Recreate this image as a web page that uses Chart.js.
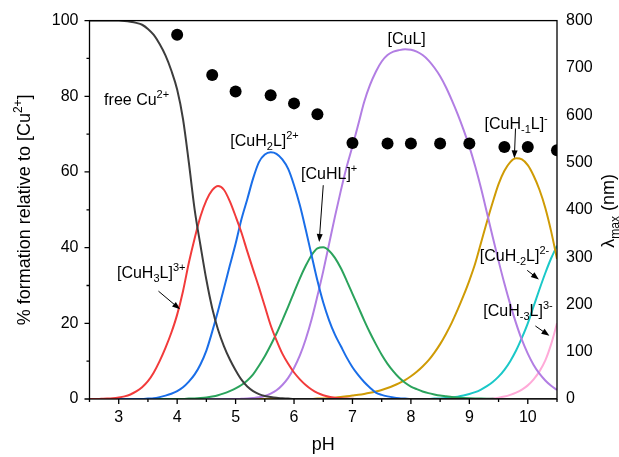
<!DOCTYPE html>
<html>
<head>
<meta charset="utf-8">
<script src="https://cdn.jsdelivr.net/npm/chart.js@4.4.0/dist/chart.umd.min.js"></script>
<style>
html, body { margin: 0; padding: 0; background: #fff; }
#wrap { width: 619px; height: 457px; position: relative; }
</style>
</head>
<body>
<div id="wrap"><canvas id="dist"></canvas></div>
<script>
// pH grid used for all species curves
const pH = [2.5, 2.6, 2.7, 2.8, 2.9, 3.0, 3.1, 3.2, 3.3, 3.4,
            3.5, 3.6, 3.7, 3.8, 3.9, 4.0, 4.1, 4.2, 4.3, 4.4,
            4.5, 4.6, 4.7, 4.8, 4.9, 5.0, 5.1, 5.2, 5.3, 5.4,
            5.5, 5.6, 5.7, 5.8, 5.9, 6.0, 6.1, 6.2, 6.3, 6.4,
            6.5, 6.6, 6.7, 6.8, 6.9, 7.0, 7.1, 7.2, 7.3, 7.4,
            7.5, 7.6, 7.7, 7.8, 7.9, 8.0, 8.1, 8.2, 8.3, 8.4,
            8.5, 8.6, 8.7, 8.8, 8.9, 9.0, 9.1, 9.2, 9.3, 9.4,
            9.5, 9.6, 9.7, 9.8, 9.9, 10.0, 10.1, 10.2, 10.3, 10.4,
            10.5];

// % formation of each species
const freeCu = [100, 100, 100, 100, 100, 100, 99.9, 99.7, 99.4, 98.9,
                97.8, 96.2, 93.8, 90.8, 86.8, 81.8, 74, 62.5, 50, 40.5,
                31.5, 24, 18.3, 14, 10.5, 7.6, 5.1, 3.3, 2.1, 1.3,
                0.8, 0.5, 0.3, 0.2, 0.1, 0, 0, 0, 0, 0,
                0, 0, 0, 0, 0, 0, 0, 0, 0, 0,
                0, 0, 0, 0, 0, 0, 0, 0, 0, 0,
                0, 0, 0, 0, 0, 0, 0, 0, 0, 0,
                0, 0, 0, 0, 0, 0, 0, 0, 0, 0,
                0];
const cuH3L = [0, 0, 0.05, 0.1, 0.2, 0.4, 0.7, 1.2, 2.0, 3.1,
               4.7, 7.0, 10, 13.5, 17.5, 22.3, 28.5, 36, 42.5, 48.3,
               52.5, 55.2, 56.3, 55.3, 52.3, 48.3, 44, 39, 34.2, 29.5,
               24.5, 19.5, 15.5, 12, 9.3, 7, 5.2, 3.7, 2.5, 1.6,
               1.0, 0.6, 0.35, 0.2, 0.1, 0.05, 0, 0, 0, 0,
               0, 0, 0, 0, 0, 0, 0, 0, 0, 0,
               0, 0, 0, 0, 0, 0, 0, 0, 0, 0,
               0, 0, 0, 0, 0, 0, 0, 0, 0, 0,
               0];
const cuH2L = [0, 0, 0, 0, 0, 0, 0, 0, 0, 0,
               0.1, 0.2, 0.5, 0.9, 1.4, 2.1, 3.1, 4.6, 6.5, 9.2,
               12.8, 17.8, 23.3, 29.2, 35.2, 41, 47.5, 52.8, 58.3, 62.6,
               64.6, 65.2, 64.8, 63.3, 60.8, 56.5, 51.2, 44.8, 38, 31.3,
               25.5, 20.8, 17, 14, 11, 8.4, 6.3, 4.5, 3.0, 1.7,
               1.1, 0.7, 0.4, 0.2, 0.1, 0, 0, 0, 0, 0,
               0, 0, 0, 0, 0, 0, 0, 0, 0, 0,
               0, 0, 0, 0, 0, 0, 0, 0, 0, 0,
               0];
const cuHL = [0, 0, 0, 0, 0, 0, 0, 0, 0, 0,
              0, 0, 0, 0, 0, 0, 0, 0.1, 0.15, 0.25,
              0.4, 0.65, 1.0, 1.5, 2.1, 2.8, 3.7, 4.9, 6.5, 8.8,
              11.3, 14.2, 17.3, 20.8, 24.4, 28.2, 31.9, 35.2, 38, 39.8,
              40.1, 39.2, 37.3, 34.6, 31.3, 27.8, 24.3, 20.8, 17.5, 14.5,
              11.7, 9.3, 7.3, 5.6, 4.3, 3.3, 2.6, 2.0, 1.55, 1.2,
              0.9, 0.7, 0.5, 0.38, 0.28, 0.2, 0.14, 0.1, 0.07, 0.05,
              0, 0, 0, 0, 0, 0, 0, 0, 0, 0,
              0];
const cuL = [0, 0, 0, 0, 0, 0, 0, 0, 0, 0,
             0, 0, 0, 0, 0, 0, 0, 0, 0, 0,
             0, 0, 0, 0, 0, 0, 0.05, 0.1, 0.25, 0.45,
             0.8, 1.4, 2.3, 3.7, 5.6, 8.2, 11.5, 15.8, 21, 27.2,
             33.8, 41, 48.2, 55, 61.3, 66.8, 72.6, 78.5, 83, 86.5,
             89.2, 90.9, 91.8, 92.2, 92.4, 92.3, 91.8, 90.9, 89.5, 87.6,
             85.3, 82.4, 79, 75.3, 71.2, 66.7, 61.5, 55.7, 49.3, 42.8,
             36.5, 30.5, 25, 20, 15.6, 12, 9, 6.7, 4.9, 3.5,
             2.4];
const cuHm1L = [0, 0, 0, 0, 0, 0, 0, 0, 0, 0,
                0, 0, 0, 0, 0, 0, 0, 0, 0, 0,
                0, 0, 0, 0, 0, 0, 0, 0, 0, 0,
                0, 0, 0, 0, 0, 0, 0, 0, 0, 0.1,
                0.15, 0.25, 0.35, 0.5, 0.7, 0.9, 1.1, 1.35, 1.65, 2.0,
                2.4, 2.9, 3.5, 4.2, 5.0, 6.0, 7.2, 8.6, 10.2, 12.2,
                14.5, 17.2, 20.2, 23.6, 27.3, 31.3, 35.8, 41.3, 46.8, 52,
                56.8, 60.3, 62.6, 63.6, 63.3, 61.8, 59, 55.3, 50.5, 44.3,
                37];
const cuHm2L = [0, 0, 0, 0, 0, 0, 0, 0, 0, 0,
                0, 0, 0, 0, 0, 0, 0, 0, 0, 0,
                0, 0, 0, 0, 0, 0, 0, 0, 0, 0,
                0, 0, 0, 0, 0, 0, 0, 0, 0, 0,
                0, 0, 0, 0, 0, 0, 0, 0, 0, 0,
                0, 0, 0, 0, 0, 0, 0, 0, 0, 0.1,
                0.15, 0.25, 0.4, 0.6, 0.9, 1.3, 1.8, 2.5, 3.4, 4.5,
                5.9, 7.7, 10, 12.8, 16.2, 20, 24.5, 29, 33.3, 37.2,
                40.5];
const cuHm3L = [0, 0, 0, 0, 0, 0, 0, 0, 0, 0,
                0, 0, 0, 0, 0, 0, 0, 0, 0, 0,
                0, 0, 0, 0, 0, 0, 0, 0, 0, 0,
                0, 0, 0, 0, 0, 0, 0, 0, 0, 0,
                0, 0, 0, 0, 0, 0, 0, 0, 0, 0,
                0, 0, 0, 0, 0, 0, 0, 0, 0, 0,
                0, 0, 0, 0, 0, 0, 0, 0, 0.05, 0.15,
                0.35, 0.65, 1.1, 1.7, 2.5, 3.6, 5.2, 7.3, 10.2, 14.5,
                20];

// lambda max measurements (right axis)
const lambdaPH = [4.0, 4.6, 5.0, 5.6, 6.0, 6.4, 7.0, 7.6, 8.0, 8.5, 9.0, 9.6, 10.0, 10.5];
const lambdaMax = [770, 685, 650, 642, 625, 602, 541, 540, 540, 540, 540, 533, 533, 526];

const xTicks = [3, 4, 5, 6, 7, 8, 9, 10];
const xMinor = [2.5, 3.5, 4.5, 5.5, 6.5, 7.5, 8.5, 9.5, 10.5];
const yTicks = [0, 20, 40, 60, 80, 100];
const yMinor = [10, 30, 50, 70, 90];
const y2Ticks = [0, 100, 200, 300, 400, 500, 600, 700, 800];

const species = [freeCu, cuH3L, cuH2L, cuHL, cuL, cuHm1L, cuHm2L, cuHm3L];
const colors = ['#3d3d3d', '#f23b3b', '#1a6ee8', '#2ba35c', '#b27ee3', '#cf9b05', '#1ac8c8', '#ffaad8'];

// labels placed in data units (left edge pH, vertical centre %)
const notes = [
  {text: 'free Cu^{2+}', ph: 2.75, pct: 79.2},
  {text: '[CuH_{2}L]^{2+}', ph: 4.91, pct: 68.3},
  {text: '[CuHL]^{+}', ph: 6.12, pct: 59.6},
  {text: '[CuL]', ph: 7.6, pct: 95.2},
  {text: '[CuH_{-1}L]^{-}', ph: 9.26, pct: 72.9},
  {text: '[CuH_{3}L]^{3+}', ph: 2.97, pct: 33.6},
  {text: '[CuH_{-2}L]^{2-}', ph: 9.18, pct: 38.0},
  {text: '[CuH_{-3}L]^{3-}', ph: 9.24, pct: 23.5}
];
const arrows = [
  {from: [3.68, 28.5], to: [4.05, 23.7]},
  {from: [6.50, 56.5], to: [6.43, 41.5]},
  {from: [9.79, 71.5], to: [9.77, 63.6]},
  {from: [9.99, 34.0], to: [10.19, 31.6]},
  {from: [10.13, 19.3], to: [10.37, 16.7]}
];

const family = '"Liberation Sans", Arial, sans-serif';

function richParts(s) {
  const parts = [];
  const re = /([_^])\{([^}]*)\}|([^_^]+)/g;
  let m;
  while ((m = re.exec(s))) {
    if (m[3]) parts.push({t: m[3], k: 0});
    else parts.push({t: m[2], k: m[1] === '^' ? 1 : -1});
  }
  return parts;
}
function richWidth(ctx, s, size) {
  let w = 0;
  richParts(s).forEach(p => {
    ctx.font = (p.k ? Math.round(size * 0.68) : size) + 'px ' + family;
    w += ctx.measureText(p.t).width;
  });
  return w;
}
function drawRich(ctx, s, x, y, size) {
  richParts(s).forEach(p => {
    ctx.font = (p.k ? Math.round(size * 0.68) : size) + 'px ' + family;
    const dy = p.k === 1 ? -size * 0.44 : (p.k === -1 ? size * 0.26 : 0);
    ctx.fillText(p.t, x, y + dy);
    x += ctx.measureText(p.t).width;
  });
}

const decor = {
  id: 'decor',
  afterDatasetsDraw(chart) {
    const {ctx, chartArea: a, scales: {x, y}} = chart;
    ctx.save();
    ctx.strokeStyle = '#000';
    ctx.lineWidth = 1.3;
    ctx.strokeRect(a.left, a.top, a.right - a.left, a.bottom - a.top);
    ctx.beginPath();
    xTicks.forEach(v => { const p = x.getPixelForValue(v); ctx.moveTo(p, a.bottom); ctx.lineTo(p, a.bottom + 5); });
    xMinor.forEach(v => { const p = x.getPixelForValue(v); ctx.moveTo(p, a.bottom); ctx.lineTo(p, a.bottom + 3); });
    yTicks.forEach(v => { const p = y.getPixelForValue(v); ctx.moveTo(a.left, p); ctx.lineTo(a.left - 5, p); });
    yMinor.forEach(v => { const p = y.getPixelForValue(v); ctx.moveTo(a.left, p); ctx.lineTo(a.left - 3, p); });
    ctx.stroke();

    ctx.fillStyle = '#000';
    ctx.textBaseline = 'alphabetic';
    ctx.textAlign = 'left';
    notes.forEach(n => {
      drawRich(ctx, n.text, x.getPixelForValue(n.ph), y.getPixelForValue(n.pct) + 5.7, 16);
    });

    ctx.lineWidth = 1;
    arrows.forEach(ar => {
      const x0 = x.getPixelForValue(ar.from[0]), y0 = y.getPixelForValue(ar.from[1]);
      const x1 = x.getPixelForValue(ar.to[0]), y1 = y.getPixelForValue(ar.to[1]);
      const ang = Math.atan2(y1 - y0, x1 - x0);
      ctx.beginPath();
      ctx.moveTo(x0, y0);
      ctx.lineTo(x1 - 6 * Math.cos(ang), y1 - 6 * Math.sin(ang));
      ctx.stroke();
      ctx.beginPath();
      ctx.moveTo(x1, y1);
      ctx.lineTo(x1 - 8 * Math.cos(ang) + 3 * Math.sin(ang), y1 - 8 * Math.sin(ang) - 3 * Math.cos(ang));
      ctx.lineTo(x1 - 8 * Math.cos(ang) - 3 * Math.sin(ang), y1 - 8 * Math.sin(ang) + 3 * Math.cos(ang));
      ctx.closePath();
      ctx.fill();
    });

    // axis titles
    const midY = (a.top + a.bottom) / 2;
    const t1 = '% formation relative to [Cu^{2+}]';
    ctx.save();
    ctx.translate(30, midY);
    ctx.rotate(-Math.PI / 2);
    drawRich(ctx, t1, -richWidth(ctx, t1, 18) / 2, 0, 18);
    ctx.restore();

    const t2 = '\u03bb_{max} (nm)';
    ctx.save();
    ctx.translate(614, midY + 1);
    ctx.rotate(-Math.PI / 2);
    drawRich(ctx, t2, -richWidth(ctx, t2, 18) / 2, 0, 18);
    ctx.restore();

    const t3 = 'pH';
    drawRich(ctx, t3, (a.left + a.right) / 2 - richWidth(ctx, t3, 18) / 2, 450, 18);
    ctx.restore();
  }
};

const datasets = species.map((vals, i) => ({
  data: vals.map((v, j) => ({x: pH[j], y: v})),
  showLine: true,
  borderColor: colors[i],
  borderWidth: 2,
  pointRadius: 0,
  cubicInterpolationMode: 'monotone',
  yAxisID: 'y',
  order: 2
}));
datasets.push({
  data: lambdaMax.map((v, j) => ({x: lambdaPH[j], y: v})),
  showLine: false,
  pointRadius: 6,
  pointBackgroundColor: '#000',
  pointBorderWidth: 0,
  yAxisID: 'y2',
  clip: 0,
  order: 0
});

const tickFont = {family: family, size: 16};

new Chart(document.getElementById('dist'), {
  type: 'scatter',
  data: {datasets: datasets},
  options: {
    responsive: true,
    maintainAspectRatio: false,
    animation: false,
    devicePixelRatio: 1,
    layout: {padding: {top: 20, left: 0, right: 0, bottom: 0}},
    plugins: {legend: {display: false}, tooltip: {enabled: false}},
    scales: {
      x: {
        type: 'linear', position: 'bottom', min: 2.5, max: 10.5,
        afterBuildTicks: s => { s.ticks = xTicks.map(v => ({value: v})); },
        afterFit: s => { s.height = 58; },
        ticks: {font: tickFont, color: '#000', padding: 9, maxRotation: 0},
        grid: {display: false, drawTicks: false},
        border: {display: false}
      },
      y: {
        position: 'left', min: 0, max: 100,
        afterBuildTicks: s => { s.ticks = yTicks.map(v => ({value: v})); },
        afterFit: s => { s.width = 89.5; },
        ticks: {font: tickFont, color: '#000', padding: 11},
        grid: {display: false, drawTicks: false},
        border: {display: false}
      },
      y2: {
        position: 'right', min: 0, max: 800,
        afterBuildTicks: s => { s.ticks = y2Ticks.map(v => ({value: v})); },
        afterFit: s => { s.width = 62; },
        ticks: {font: tickFont, color: '#000', padding: 9},
        grid: {display: false, drawTicks: false},
        border: {display: false}
      }
    }
  },
  plugins: [decor]
});
</script>
</body>
</html>
